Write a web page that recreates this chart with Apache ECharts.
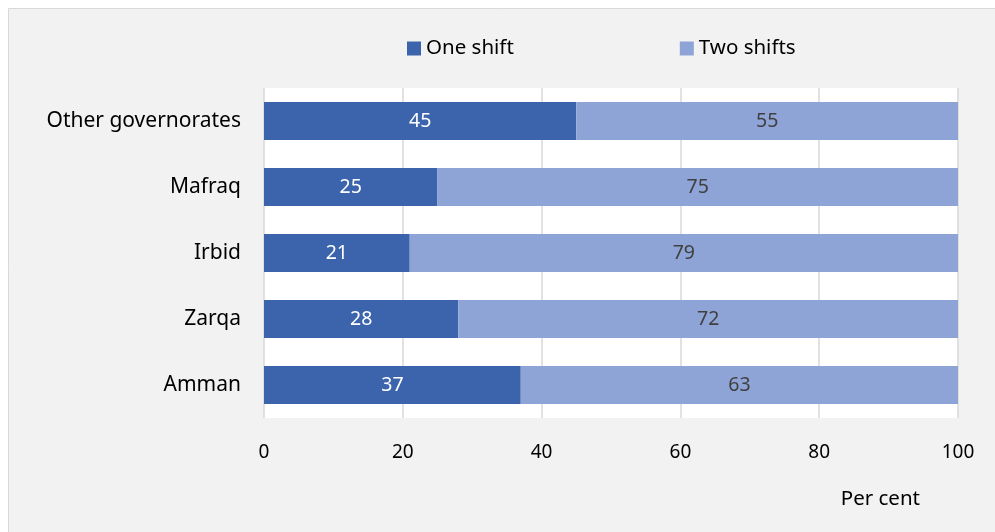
<!DOCTYPE html>
<html><head><meta charset="utf-8">
<script src="https://cdn.jsdelivr.net/npm/echarts@6/dist/echarts.min.js"></script>
<style>html,body{margin:0;padding:0;background:#fff;}#c{width:995px;height:532px;}</style>
</head><body><div id="c"></div>
<script>
var categories = ["Amman", "Zarqa", "Irbid", "Mafraq", "Other governorates"];
var oneShift = [37, 28, 21, 25, 45];
var twoShifts = [63, 72, 79, 75, 55];
var seriesNames = ["One shift", "Two shifts"];
var xTicks = [0, 20, 40, 60, 80, 100];

var FONT = "Noto Sans";
var chart = echarts.init(document.getElementById('c'), null, {renderer: 'canvas'});
chart.setOption({
  animation: false,
  backgroundColor: '#ffffff',
  graphic: [{
    type: 'rect', z: -10, silent: true,
    shape: {x: 8.5, y: 8.5, width: 1000, height: 600},
    style: {fill: '#f2f2f2', stroke: '#d9d9d9', lineWidth: 1}
  }],
  textStyle: {fontFamily: FONT},
  legend: {
    top: 33, left: 402,
    itemWidth: 14, itemHeight: 14, itemGap: 166,
    icon: 'rect',
    textStyle: {fontFamily: FONT, fontSize: 20.5, color: '#000'},
    data: seriesNames
  },
  grid: {
    left: 264, top: 88, width: 694, height: 330,
    show: true, backgroundColor: '#ffffff', borderWidth: 0
  },
  xAxis: {
    type: 'value', min: 0, max: 100, interval: 20,
    name: 'Per cent', nameLocation: 'end',
    nameGap: 0,
    nameTextStyle: {fontFamily: FONT, fontSize: 20.5, color: '#000', align: 'right', verticalAlign: 'top', padding: [71, 38, 0, 0]},
    axisLine: {show: false}, axisTick: {show: false},
    axisLabel: {fontFamily: FONT, fontSize: 19, color: '#000', margin: 25,
      formatter: function(v){ return xTicks.indexOf(v) >= 0 ? String(v) : ''; }},
    splitLine: {show: true, lineStyle: {color: '#d9d9d9', width: 1.5}}
  },
  yAxis: {
    type: 'category', data: categories,
    axisLine: {show: false}, axisTick: {show: false},
    axisLabel: {fontFamily: FONT, fontSize: 21, color: '#000', margin: 23}
  },
  series: [{
    name: seriesNames[0], type: 'bar', stack: 's', data: oneShift,
    barWidth: 38,
    itemStyle: {color: '#3c64ad'},
    label: {show: true, position: 'inside', color: '#ffffff', fontFamily: FONT, fontSize: 19.5}
  }, {
    name: seriesNames[1], type: 'bar', stack: 's', data: twoShifts,
    barWidth: 38,
    itemStyle: {color: '#8fa4d6'},
    label: {show: true, position: 'inside', color: '#404040', fontFamily: FONT, fontSize: 19.5}
  }]
});
</script></body></html>
